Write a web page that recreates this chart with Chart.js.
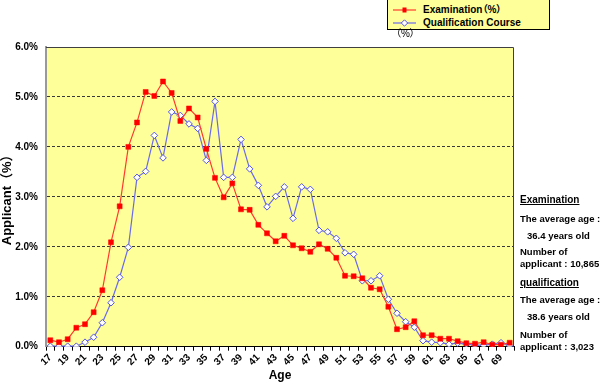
<!DOCTYPE html>
<html>
<head>
<meta charset="utf-8">
<script src="https://cdn.jsdelivr.net/npm/chart.js@4/dist/chart.umd.min.js"></script>
<style>
html,body{margin:0;padding:0;background:#fff;}
#wrap{position:relative;width:600px;height:383px;overflow:hidden;}
#c{position:absolute;left:0;top:0;}
.t{position:absolute;font-family:"Liberation Sans",Arial,"Noto Sans CJK JP",sans-serif;font-weight:bold;font-size:9.5px;color:#000;white-space:nowrap;line-height:12px;font-feature-settings:"palt";}
.h{font-size:10px;text-decoration:underline;}
#legend{position:absolute;left:387px;top:-1px;width:161px;height:29px;border:1px solid #000;background:#ffff99;}
.row{position:absolute;left:5px;height:12px;line-height:12px;font-family:"Liberation Sans",Arial,"Noto Sans CJK JP",sans-serif;font-weight:bold;font-size:10px;white-space:nowrap;font-feature-settings:"palt";}
.row svg{position:absolute;left:0;top:2px;}
.row span{position:absolute;left:30px;top:0;}
#pct{position:absolute;left:396px;top:27px;font-family:"Liberation Sans",Arial,"Noto Sans CJK JP",sans-serif;font-size:10px;line-height:14px;font-feature-settings:"palt";}
</style>
</head>
<body>
<div id="wrap">
<canvas id="c" width="600" height="383"></canvas>
<div id="legend">
  <div class="row" style="top:4px;">
    <svg width="24" height="8"><line x1="0" y1="4" x2="23" y2="4" stroke="#ff3b2f" stroke-width="1.2"/><rect x="9.5" y="1.5" width="4" height="5" fill="#ff0000"/></svg>
    <span>Examination（%）</span>
  </div>
  <div class="row" style="top:16.5px;">
    <svg width="24" height="8"><line x1="0" y1="4" x2="23" y2="4" stroke="#6a6aee" stroke-width="1.2"/><polygon points="11.5,0.8 14.7,4 11.5,7.2 8.3,4" fill="#fff" stroke="#5555e0" stroke-width="1"/></svg>
    <span>Qualification Course</span>
  </div>
</div>
<div id="pct">（%）</div>

<div class="t h" style="left:520px;top:194px;">Examination</div>
<div class="t" style="left:520px;top:212.5px;">The average age :</div>
<div class="t" style="left:527px;top:230px;">36.4 years old</div>
<div class="t" style="left:520px;top:246px;">Number of</div>
<div class="t" style="left:520px;top:258px;">applicant : 10,865</div>
<div class="t h" style="left:520px;top:277px;">qualification</div>
<div class="t" style="left:520px;top:294px;">The average age :</div>
<div class="t" style="left:527px;top:311px;">38.6 years old</div>
<div class="t" style="left:520px;top:328.5px;">Number of</div>
<div class="t" style="left:520px;top:341px;">applicant : 3,023</div>
</div>

<script>
const ages = [17,18,19,20,21,22,23,24,25,26,27,28,29,30,31,32,33,34,35,36,37,38,39,40,41,42,43,44,45,46,47,48,49,50,51,52,53,54,55,56,57,58,59,60,61,62,63,64,65,66,67,68,69,70];
const examination = [0.13,0.09,0.15,0.38,0.45,0.69,1.13,2.09,2.81,4.00,
                     4.49,5.10,5.02,5.31,5.08,4.52,4.77,4.59,3.96,3.38,
                     2.99,3.27,2.75,2.74,2.44,2.27,2.11,2.22,2.03,1.97,
                     1.90,2.05,1.96,1.78,1.42,1.41,1.37,1.18,1.15,0.80,
                     0.35,0.39,0.51,0.23,0.23,0.16,0.16,0.11,0.07,0.06,
                     0.09,0.04,0.04,0.08];
const qualification = [0.01,0.01,0.01,0.01,0.09,0.19,0.48,0.88,1.39,1.99,
                       3.39,3.51,4.23,3.78,4.70,4.63,4.46,4.37,3.73,4.91,
                       3.39,3.39,4.15,3.56,3.23,2.80,3.01,3.20,2.57,3.20,
                       3.15,2.33,2.30,2.17,1.88,1.85,1.32,1.32,1.42,0.95,
                       0.67,0.50,0.39,0.12,0.09,0.08,0.05,0.07,0.05,0.03,
                       0.03,0.05,0.08,0.02];
const yTickValues = [0,1,2,3,4,5,6];

const FONT = "'Liberation Sans', Arial, 'Noto Sans CJK JP', sans-serif";

const plotFrame = {
  id: 'plotFrame',
  beforeDraw(chart) {
    const {ctx, chartArea: a} = chart;
    ctx.save();
    ctx.fillStyle = '#ffff99';
    ctx.fillRect(a.left, a.top, a.right - a.left, a.bottom - a.top);
    ctx.restore();
  },
  afterDatasetsDraw(chart) {
    const {ctx, chartArea: a} = chart;
    ctx.save();
    ctx.strokeStyle = '#404040';
    ctx.lineWidth = 1;
    ctx.beginPath();
    ctx.moveTo(a.left, a.top + 0.5);
    ctx.lineTo(a.right - 0.5, a.top + 0.5);
    ctx.lineTo(a.right - 0.5, a.bottom);
    ctx.stroke();
    ctx.restore();
  }
};

new Chart(document.getElementById('c'), {
  type: 'line',
  data: {
    labels: ages.map(String),
    datasets: [
      {
        label: 'Examination（%）',
        data: examination,
        borderColor: '#ff3b2f',
        borderWidth: 1.2,
        pointStyle: 'rect',
        pointRadius: 3.5,
        pointBackgroundColor: '#ff0000',
        pointBorderColor: '#ff0000',
        pointBorderWidth: 0.5,
        tension: 0,
        fill: false
      },
      {
        label: 'Qualification Course',
        data: qualification,
        borderColor: '#6a6aee',
        borderWidth: 1.2,
        pointStyle: 'rectRot',
        pointRadius: 3.3,
        pointBackgroundColor: '#ffffff',
        pointBorderColor: '#5555e0',
        pointBorderWidth: 1,
        tension: 0,
        fill: false
      }
    ]
  },
  options: {
    responsive: false,
    animation: false,
    devicePixelRatio: 1,
    layout: { padding: { left: 0, top: 47, right: 86, bottom: 0 } },
    plugins: { legend: { display: false }, tooltip: { enabled: false } },
    scales: {
      x: {
        type: 'category',
        offset: true,
        grid: { offset: true, drawOnChartArea: false, drawTicks: true, tickLength: 4, tickColor: '#000', tickWidth: 1 },
        border: { color: '#000', width: 1 },
        ticks: {
          autoSkip: false, minRotation: 45, maxRotation: 45, padding: 1, color: '#000',
          font: { family: FONT, weight: 'bold', size: 10 },
          callback: (v, i) => (ages[i] % 2 === 1 ? String(ages[i]) : '')
        },
        title: { display: true, text: 'Age', color: '#000', font: { family: FONT, weight: 'bold', size: 12 }, padding: { top: 0, bottom: 0 } },
        afterFit: (s) => { s.height = 36.3; }
      },
      y: {
        min: 0, max: 6,
        afterBuildTicks: (s) => { s.ticks = yTickValues.map(v => ({ value: v })); },
        ticks: {
          padding: 8, color: '#000',
          font: { family: FONT, weight: 'bold', size: 10 },
          callback: (v) => Number(v).toFixed(1) + '%'
        },
        grid: {
          drawTicks: false,
          lineWidth: 1,
          color: (c) => (c.tick && c.tick.value > 0 && c.tick.value < 6) ? '#3a3a3a' : 'rgba(0,0,0,0)'
        },
        border: { color: '#999999', width: 2, dash: [3, 2] },
        title: { display: true, text: 'Applicant（%）', color: '#000', font: { family: FONT, weight: 'bold', size: 13 }, padding: { top: 0, bottom: 0 } },
        afterFit: (s) => { s.width = 46; }
      }
    }
  },
  plugins: [plotFrame]
});
</script>
</body>
</html>
